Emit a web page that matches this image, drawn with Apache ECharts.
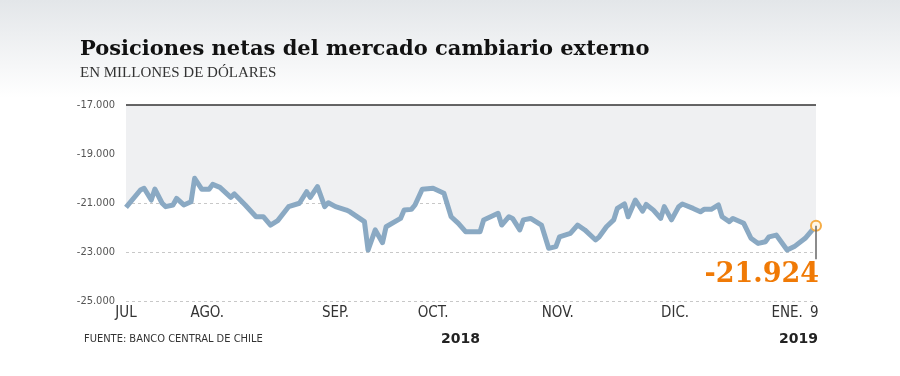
<!DOCTYPE html>
<html>
<head>
    <meta charset="utf-8" />
    <title>Posiciones netas</title>
    <script src="https://cdn.jsdelivr.net/npm/echarts@6/dist/echarts.min.js"></script>
    <style>
    html, body { margin: 0; padding: 0; background: #fff; }
    #main { width: 900px; height: 376px; }
    </style>
</head>
<body>
    <div id="main"></div>
    <script type="text/javascript">
        // dias desde el 2 de julio de 2018 (ultimo = 9 de enero 2019)
        var dias = [0, 4, 5, 7, 8, 10, 11, 13, 14, 16, 18, 19, 21, 23, 24, 26, 29, 30, 33, 36,
            38, 40, 42, 45, 48, 50, 51, 53, 55, 56, 58, 61, 62, 66, 67, 69, 71, 72, 76, 77,
            79, 80, 82, 85, 88, 90, 92, 94, 98, 99, 103, 104, 106, 107, 109, 110, 112, 115, 117, 119,
            120, 123, 125, 127, 130, 131, 133, 135, 136, 138, 139, 141, 143, 144, 146, 148, 149, 151, 153, 154,
            157, 159, 160, 162, 164, 165, 167, 168, 171, 173, 175, 177, 178, 180, 181, 183, 185, 188, 191];
        // millones de dolares
        var posiciones = [-21180, -20470, -20400, -20880, -20430, -21010, -21150, -21080, -20810, -21080,
            -20950, -19990, -20440, -20440, -20240, -20360, -20770, -20630, -21080, -21560,
            -21560, -21900, -21720, -21150, -21010, -20540, -20770, -20330, -21150, -20990,
            -21150, -21290, -21360, -21760, -22920, -22100, -22620, -21970, -21630, -21290,
            -21260, -21080, -20440, -20400, -20600, -21560, -21830, -22170, -22170, -21690,
            -21420, -21900, -21560, -21630, -22100, -21690, -21630, -21900, -22850, -22780,
            -22380, -22240, -21900, -22100, -22510, -22380, -21970, -21690, -21220, -21040,
            -21560, -20880, -21330, -21060, -21290, -21630, -21150, -21690, -21150, -21040,
            -21220, -21360, -21260, -21260, -21080, -21560, -21760, -21630, -21830, -22440,
            -22650, -22580, -22380, -22310, -22510, -22920, -22780, -22440, -21924];
        // etiquetas del eje x
        var mesesPos = [0, 22.5, 58, 85, 119.5, 152, 183, 190.5];
        var meses = ['JUL', 'AGO.', 'SEP.', 'OCT.', 'NOV.', 'DIC.', 'ENE.', '9'];
        var yTicks = [-25000, -23000, -21000, -19000, -17000];

        function miles(v) {
            var s = Math.abs(Math.round(v)).toString().replace(/\B(?=(\d{3})+(?!\d))/g, '.');
            return (v < 0 ? '-' : '') + s;
        }

        var serie = [];
        for (var i = 0; i < dias.length; i++) {
            serie.push([dias[i], posiciones[i]]);
        }
        var n = serie.length - 1;
        serie[n] = {
            value: serie[n],
            symbol: 'circle',
            symbolSize: 10,
            itemStyle: { color: '#fff6e6', borderColor: '#f6ad45', borderWidth: 2 },
            label: {
                show: true,
                position: [9, 42],
                align: 'right',
                verticalAlign: 'top',
                formatter: function (p) { return miles(p.value[1]); },
                fontFamily: 'DejaVu Serif',
                fontWeight: 'bold',
                fontSize: 27,
                color: '#f07a06'
            }
        };

        var narrow = "'Liberation Sans Narrow', 'DejaVu Sans Condensed', sans-serif";
        var myChart = echarts.init(document.getElementById('main'));
        myChart.setOption({
            animation: false,
            backgroundColor: {
                type: 'linear', x: 0, y: 0, x2: 0, y2: 1,
                colorStops: [
                    { offset: 0, color: '#e3e6e9' },
                    { offset: 0.26, color: '#ffffff' },
                    { offset: 1, color: '#ffffff' }
                ]
            },
            grid: { left: 126, right: 84, top: 105, bottom: 75 },
            graphic: [
                { type: 'text', left: 80, top: 39, style: { text: 'Posiciones netas del mercado cambiario externo', font: "bold 21px 'DejaVu Serif', serif", fill: '#111' } },
                { type: 'text', left: 80, top: 66, style: { text: 'EN MILLONES DE DÓLARES', font: "15px 'Liberation Serif', serif", fill: '#333' } },
                { type: 'text', left: 84, top: 334, style: { text: 'FUENTE: BANCO CENTRAL DE CHILE', font: "11px " + narrow, fill: '#333' } },
                { type: 'text', left: 441, top: 332, style: { text: '2018', font: "bold 14px 'DejaVu Sans', sans-serif", fill: '#222' } },
                { type: 'text', right: 82, top: 332, style: { text: '2019', font: "bold 14px 'DejaVu Sans', sans-serif", fill: '#222' } }
            ],
            xAxis: {
                type: 'value',
                min: 0,
                max: 191,
                axisLine: { show: false },
                axisTick: { show: false },
                splitLine: { show: false },
                axisLabel: {
                    customValues: mesesPos,
                    hideOverlap: false,
                    showMinLabel: true,
                    showMaxLabel: true,
                    margin: 5,
                    fontFamily: narrow,
                    fontSize: 15,
                    color: '#333',
                    formatter: function (v) {
                        var k = mesesPos.indexOf(v);
                        return k >= 0 ? meses[k] : '';
                    }
                }
            },
            yAxis: {
                type: 'value',
                min: yTicks[0],
                max: yTicks[yTicks.length - 1],
                interval: 2000,
                axisLine: { show: false },
                axisTick: { show: false },
                axisLabel: {
                    margin: 11,
                    fontFamily: narrow,
                    fontSize: 11,
                    color: '#555',
                    formatter: miles
                },
                splitLine: { lineStyle: { color: '#c8c8c8', type: [3, 3], width: 1 } }
            },
            series: [{
                type: 'line',
                data: serie,
                showSymbol: true,
                symbol: 'none',
                lineStyle: { color: '#8aa9c3', width: 5, join: 'round' },
                areaStyle: { origin: 'end', color: '#eff0f2', opacity: 1 },
                z: 3,
                markLine: {
                    silent: true,
                    symbol: 'none',
                    label: { show: false },
                    data: [
                        [{ coord: [0, -17000], lineStyle: { color: '#333', width: 1.5, type: 'solid' } },
                         { coord: [191, -17000] }],
                        [{ coord: [191, -21924], lineStyle: { color: '#666', width: 1.5, type: 'solid' } },
                         { coord: [191, -23300] }]
                    ]
                }
            }]
        });
    </script>
</body>
</html>
